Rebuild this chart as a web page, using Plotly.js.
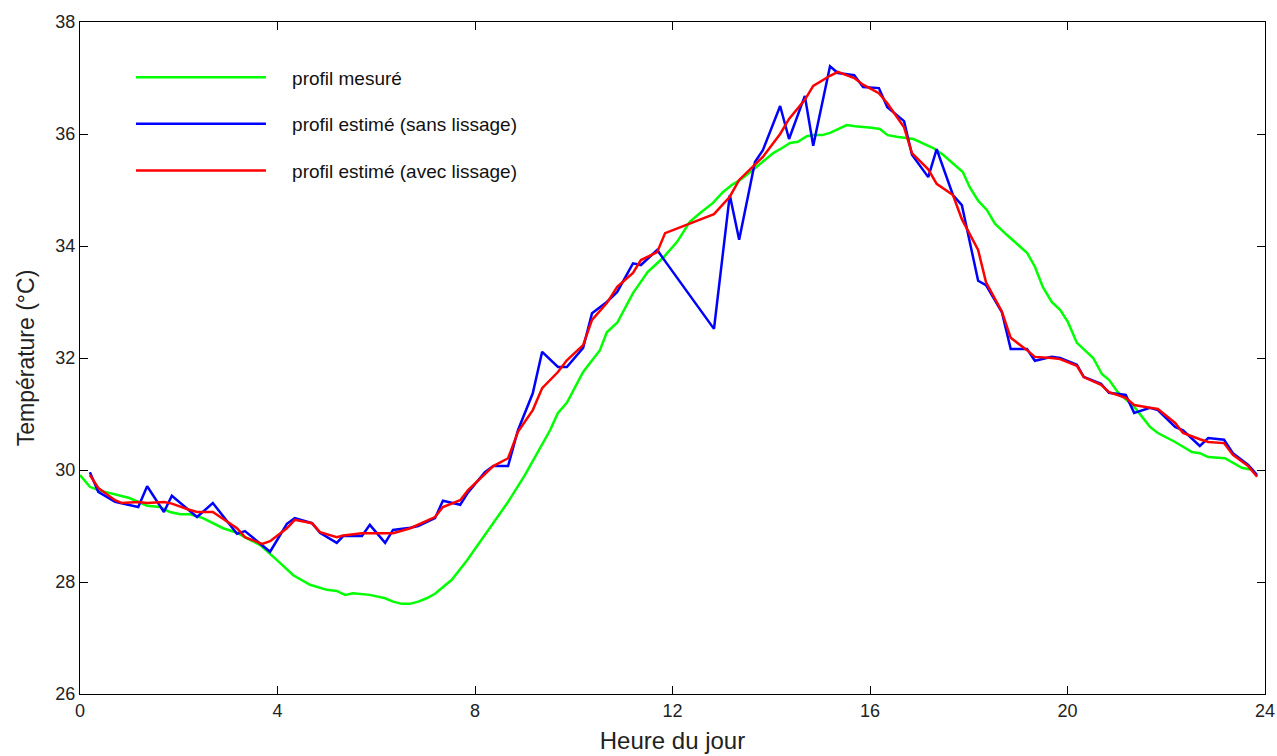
<!DOCTYPE html>
<html>
<head>
<meta charset="utf-8">
<script src="https://cdn.plot.ly/plotly-3.0.1.min.js"></script>
<style>html,body{margin:0;padding:0;background:#fff;}#chart{width:1277px;height:756px;}</style>
</head>
<body>
<div id="chart"></div>
<script>
// Measured profile (green)
const hoursMeasured = [0, 0.2, 0.37, 0.71, 1.0, 1.36, 1.62, 1.82, 2.03, 2.23, 2.49, 2.9, 3.18, 3.38, 3.65, 3.99, 4.32, 4.66, 5.0, 5.2, 5.37, 5.53, 5.87, 6.18, 6.34, 6.52, 6.68, 6.85, 7.02, 7.19, 7.53, 7.84, 8.1, 8.27, 8.67, 9.01, 9.22, 9.52, 9.68, 9.86, 10.19, 10.53, 10.67, 10.88, 11.2, 11.5, 11.81, 12.09, 12.35, 12.56, 12.82, 13.02, 13.2, 13.37, 13.67, 13.87, 14.04, 14.22, 14.38, 14.54, 14.72, 14.85, 15.03, 15.19, 15.35, 15.53, 15.7, 15.86, 16.03, 16.2, 16.36, 16.54, 16.88, 17.05, 17.28, 17.48, 17.68, 17.88, 18.02, 18.19, 18.37, 18.53, 18.77, 19.0, 19.18, 19.34, 19.5, 19.68, 19.85, 20.01, 20.19, 20.35, 20.52, 20.7, 20.84, 21.02, 21.2, 21.35, 21.67, 21.83, 22.18, 22.52, 22.68, 22.85, 23.19, 23.53, 23.76];
const tempMeasured = [29.91, 29.70, 29.64, 29.56, 29.50, 29.36, 29.34, 29.25, 29.21, 29.21, 29.14, 28.96, 28.88, 28.78, 28.66, 28.39, 28.12, 27.95, 27.86, 27.84, 27.77, 27.80, 27.77, 27.71, 27.65, 27.61, 27.61, 27.65, 27.71, 27.79, 28.04, 28.39, 28.71, 28.93, 29.43, 29.91, 30.23, 30.71, 31.02, 31.20, 31.75, 32.14, 32.46, 32.63, 33.16, 33.54, 33.79, 34.07, 34.43, 34.59, 34.77, 34.96, 35.09, 35.18, 35.39, 35.54, 35.66, 35.75, 35.84, 35.86, 35.96, 35.98, 35.98, 36.02, 36.09, 36.16, 36.14, 36.13, 36.11, 36.09, 35.98, 35.95, 35.91, 35.84, 35.75, 35.63, 35.48, 35.32, 35.05, 34.81, 34.64, 34.40, 34.20, 34.02, 33.88, 33.63, 33.27, 33.00, 32.86, 32.64, 32.27, 32.14, 32.00, 31.71, 31.61, 31.39, 31.25, 31.13, 30.77, 30.66, 30.50, 30.32, 30.30, 30.23, 30.21, 30.04, 30.00];

// Estimated profiles (blue: without smoothing, red: with smoothing)
const hoursEstimated = [0.2, 0.37, 0.71, 0.85, 1.18, 1.36, 1.7, 1.86, 2.18, 2.37, 2.69, 2.85, 3.18, 3.34, 3.69, 3.85, 4.19, 4.35, 4.7, 4.86, 5.2, 5.33, 5.71, 5.87, 6.18, 6.34, 6.69, 6.85, 7.19, 7.35, 7.7, 7.86, 8.2, 8.37, 8.67, 8.87, 9.17, 9.36, 9.68, 9.86, 10.19, 10.37, 10.67, 10.88, 11.2, 11.36, 11.69, 11.85, 12.84, 13.16, 13.35, 13.67, 13.83, 14.18, 14.36, 14.68, 14.85, 15.19, 15.35, 15.68, 15.86, 16.18, 16.35, 16.69, 16.85, 17.18, 17.35, 17.68, 17.86, 18.19, 18.35, 18.67, 18.85, 19.18, 19.34, 19.68, 19.85, 20.19, 20.33, 20.68, 20.84, 21.18, 21.35, 21.67, 21.83, 22.18, 22.34, 22.68, 22.85, 23.17, 23.35, 23.66, 23.84];
const tempRaw = [29.96, 29.61, 29.43, 29.40, 29.34, 29.71, 29.25, 29.54, 29.30, 29.16, 29.41, 29.23, 28.86, 28.91, 28.66, 28.54, 29.04, 29.14, 29.05, 28.88, 28.70, 28.82, 28.82, 29.02, 28.70, 28.93, 28.97, 29.00, 29.14, 29.45, 29.38, 29.60, 29.96, 30.07, 30.07, 30.71, 31.37, 32.11, 31.84, 31.84, 32.18, 32.80, 33.00, 33.18, 33.69, 33.66, 33.93, 33.73, 32.52, 34.91, 34.11, 35.50, 35.71, 36.50, 35.91, 36.68, 35.79, 37.21, 37.09, 37.05, 36.84, 36.82, 36.48, 36.23, 35.63, 35.23, 35.73, 34.91, 34.73, 33.38, 33.30, 32.82, 32.16, 32.16, 31.95, 32.02, 32.00, 31.88, 31.66, 31.54, 31.38, 31.34, 31.02, 31.11, 31.07, 30.77, 30.71, 30.43, 30.57, 30.54, 30.30, 30.09, 29.91];
const tempSmoothed = [29.91, 29.68, 29.46, 29.41, 29.43, 29.41, 29.43, 29.40, 29.30, 29.25, 29.25, 29.15, 28.96, 28.80, 28.68, 28.73, 28.96, 29.11, 29.05, 28.89, 28.80, 28.83, 28.87, 28.87, 28.87, 28.87, 28.96, 29.02, 29.16, 29.34, 29.46, 29.64, 29.93, 30.07, 30.21, 30.68, 31.07, 31.46, 31.75, 31.96, 32.23, 32.68, 32.98, 33.27, 33.52, 33.75, 33.89, 34.23, 34.57, 34.88, 35.18, 35.45, 35.59, 36.00, 36.27, 36.61, 36.86, 37.04, 37.11, 37.00, 36.88, 36.73, 36.55, 36.12, 35.66, 35.37, 35.11, 34.91, 34.48, 33.93, 33.35, 32.83, 32.36, 32.14, 32.02, 32.00, 31.98, 31.86, 31.66, 31.52, 31.39, 31.29, 31.16, 31.11, 31.09, 30.84, 30.66, 30.55, 30.50, 30.48, 30.27, 30.07, 29.88];

const seriesNames = ['profil mesuré', 'profil estimé (sans lissage)', 'profil estimé (avec lissage)'];
const xTicks = [0, 4, 8, 12, 16, 20, 24];
const yTicks = [26, 28, 30, 32, 34, 36, 38];

const FONT = 'Liberation Sans, Arial, Helvetica, sans-serif';
const PAD = '\u00a0\u00a0\u00a0\u00a0';

const traces = [
  {x: hoursMeasured, y: tempMeasured, name: PAD + seriesNames[0], legendgroup: 'a', mode: 'lines', line: {color: '#00ff00', width: 2.5}},
  {x: hoursEstimated, y: tempRaw, name: PAD + seriesNames[1], legendgroup: 'b', mode: 'lines', line: {color: '#0000ff', width: 2.5}},
  {x: hoursEstimated, y: tempSmoothed, name: PAD + seriesNames[2], legendgroup: 'c', mode: 'lines', line: {color: '#ff0000', width: 2.5}}
];

const axisCommon = {
  showline: true, linecolor: '#000', linewidth: 1.2, mirror: 'ticks',
  ticks: 'inside', ticklen: 8, tickwidth: 1, tickcolor: '#000',
  showgrid: false, zeroline: false,
  tickfont: {family: FONT, size: 18, color: '#222'}
};

const layout = {
  width: 1277, height: 756,
  margin: {l: 80, r: 12, t: 22, b: 62},
  paper_bgcolor: '#fff', plot_bgcolor: '#fff',
  font: {family: FONT, color: '#222'},
  xaxis: Object.assign({}, axisCommon, {
    range: [0, 24], tickmode: 'array', tickvals: xTicks, ticktext: xTicks.map(String),
    title: {text: 'Heure du jour', font: {family: FONT, size: 24, color: '#222'}, standoff: 12}
  }),
  yaxis: Object.assign({}, axisCommon, {
    range: [26, 38], tickmode: 'array', tickvals: yTicks, ticktext: yTicks.map(String),
    title: {text: 'Température (°C)', font: {family: FONT, size: 23, color: '#222'}, standoff: 14}
  }),
  showlegend: true,
  legend: {
    x: 0.043, y: 0.946, xanchor: 'left', yanchor: 'top',
    bgcolor: 'rgba(0,0,0,0)', borderwidth: 0,
    font: {family: FONT, size: 19, color: '#111'},
    itemwidth: 130, tracegroupgap: 19, traceorder: 'grouped'
  }
};

Plotly.newPlot('chart', traces, layout, {displayModeBar: false, staticPlot: true});
</script>
</body>
</html>
